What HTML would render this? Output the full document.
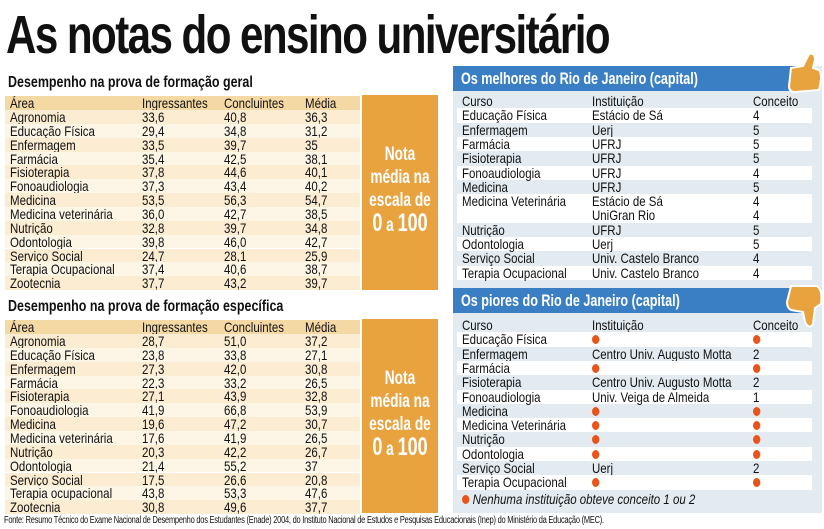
<!DOCTYPE html>
<html><head><meta charset="utf-8"><style>
*{margin:0;padding:0;box-sizing:border-box}
body{width:824px;height:529px;background:#fff;position:relative;overflow:hidden;font-family:"Liberation Sans Narrow","Liberation Sans",sans-serif;color:#111}
.a{position:absolute}
h1{position:absolute;left:6px;top:4px;font-size:54px;font-weight:bold;letter-spacing:-2px;transform:scaleX(0.78);transform-origin:left top;white-space:nowrap}
.st{position:absolute;left:8px;font-size:16px;font-weight:bold;white-space:nowrap;transform:scaleX(0.78);transform-origin:left top}
.r{position:absolute;left:5px;width:355px;height:13.85px;font-size:14px;line-height:14px;white-space:nowrap}
.r span,.q span{position:absolute;top:0;transform:scaleX(0.82);transform-origin:left top}
.r .c1{left:5px}.r .c2{left:137px}.r .c3{left:219px}.r .c4{left:300px}
.o{position:absolute;left:362px;width:76px;background:#e8a33e;color:#fff;font-weight:bold;text-align:center}
.o div{transform:scaleX(0.72);font-size:19px;line-height:23px;white-space:nowrap;margin-left:-20px;margin-right:-20px}
.panel{position:absolute;left:453px;top:66px;width:369px;height:447px;background:#e3ebf0}
.bar{position:absolute;left:453px;width:359px;height:25px;background:#3a7fc4;color:#fff;font-weight:bold;font-size:17px;line-height:25px}
.bar div{position:absolute;left:8px;transform:scaleX(0.74);transform-origin:left center;white-space:nowrap}
.q{position:absolute;left:457px;width:355px;height:14.3px;font-size:14px;line-height:14px;white-space:nowrap}
.q .c1{left:5px}.q .c2{left:135px}.q .c3{left:296px}
.w{background:#fff}
.d{display:inline-block;width:9px;height:9px;border-radius:50%;background:#e8551c;margin-top:3px}
</style></head><body>
<h1>As notas do ensino universitário</h1>

<div class="st" style="top:74px">Desempenho na prova de formação geral</div>
<div class="r" style="top:96px;background:#f5d9a5"><span class="c1">Área</span><span class="c2">Ingressantes</span><span class="c3">Concluintes</span><span class="c4">Média</span></div>
<div class="r" style="top:110px;background:#fbecd2"><span class="c1">Agronomia</span><span class="c2">33,6</span><span class="c3">40,8</span><span class="c4">36,3</span></div>
<div class="r" style="top:123.85px;background:#fdf5e6"><span class="c1">Educação Física</span><span class="c2">29,4</span><span class="c3">34,8</span><span class="c4">31,2</span></div>
<div class="r" style="top:137.7px;background:#fbecd2"><span class="c1">Enfermagem</span><span class="c2">33,5</span><span class="c3">39,7</span><span class="c4">35</span></div>
<div class="r" style="top:151.55px;background:#fdf5e6"><span class="c1">Farmácia</span><span class="c2">35,4</span><span class="c3">42,5</span><span class="c4">38,1</span></div>
<div class="r" style="top:165.4px;background:#fbecd2"><span class="c1">Fisioterapia</span><span class="c2">37,8</span><span class="c3">44,6</span><span class="c4">40,1</span></div>
<div class="r" style="top:179.25px;background:#fdf5e6"><span class="c1">Fonoaudiologia</span><span class="c2">37,3</span><span class="c3">43,4</span><span class="c4">40,2</span></div>
<div class="r" style="top:193.1px;background:#fbecd2"><span class="c1">Medicina</span><span class="c2">53,5</span><span class="c3">56,3</span><span class="c4">54,7</span></div>
<div class="r" style="top:206.95px;background:#fdf5e6"><span class="c1">Medicina veterinária</span><span class="c2">36,0</span><span class="c3">42,7</span><span class="c4">38,5</span></div>
<div class="r" style="top:220.8px;background:#fbecd2"><span class="c1">Nutrição</span><span class="c2">32,8</span><span class="c3">39,7</span><span class="c4">34,8</span></div>
<div class="r" style="top:234.65px;background:#fdf5e6"><span class="c1">Odontologia</span><span class="c2">39,8</span><span class="c3">46,0</span><span class="c4">42,7</span></div>
<div class="r" style="top:248.5px;background:#fbecd2"><span class="c1">Serviço Social</span><span class="c2">24,7</span><span class="c3">28,1</span><span class="c4">25,9</span></div>
<div class="r" style="top:262.35px;background:#fdf5e6"><span class="c1">Terapia Ocupacional</span><span class="c2">37,4</span><span class="c3">40,6</span><span class="c4">38,7</span></div>
<div class="r" style="top:276.2px;background:#fbecd2"><span class="c1">Zootecnia</span><span class="c2">37,7</span><span class="c3">43,2</span><span class="c4">39,7</span></div>
<div class="o" style="top:95px;height:195px;padding-top:48px"><div>Nota<br>média na<br>escala de<br><span style="font-size:25px">0</span> a <span style="font-size:25px">100</span></div></div>

<div class="st" style="top:298px">Desempenho na prova de formação específica</div>
<div class="r" style="top:320px;background:#f5d9a5"><span class="c1">Área</span><span class="c2">Ingressantes</span><span class="c3">Concluintes</span><span class="c4">Média</span></div>
<div class="r" style="top:334px;background:#fbecd2"><span class="c1">Agronomia</span><span class="c2">28,7</span><span class="c3">51,0</span><span class="c4">37,2</span></div>
<div class="r" style="top:347.85px;background:#fdf5e6"><span class="c1">Educação Física</span><span class="c2">23,8</span><span class="c3">33,8</span><span class="c4">27,1</span></div>
<div class="r" style="top:361.7px;background:#fbecd2"><span class="c1">Enfermagem</span><span class="c2">27,3</span><span class="c3">42,0</span><span class="c4">30,8</span></div>
<div class="r" style="top:375.55px;background:#fdf5e6"><span class="c1">Farmácia</span><span class="c2">22,3</span><span class="c3">33,2</span><span class="c4">26,5</span></div>
<div class="r" style="top:389.4px;background:#fbecd2"><span class="c1">Fisioterapia</span><span class="c2">27,1</span><span class="c3">43,9</span><span class="c4">32,8</span></div>
<div class="r" style="top:403.25px;background:#fdf5e6"><span class="c1">Fonoaudiologia</span><span class="c2">41,9</span><span class="c3">66,8</span><span class="c4">53,9</span></div>
<div class="r" style="top:417.1px;background:#fbecd2"><span class="c1">Medicina</span><span class="c2">19,6</span><span class="c3">47,2</span><span class="c4">30,7</span></div>
<div class="r" style="top:430.95px;background:#fdf5e6"><span class="c1">Medicina veterinária</span><span class="c2">17,6</span><span class="c3">41,9</span><span class="c4">26,5</span></div>
<div class="r" style="top:444.8px;background:#fbecd2"><span class="c1">Nutrição</span><span class="c2">20,3</span><span class="c3">42,2</span><span class="c4">26,7</span></div>
<div class="r" style="top:458.65px;background:#fdf5e6"><span class="c1">Odontologia</span><span class="c2">21,4</span><span class="c3">55,2</span><span class="c4">37</span></div>
<div class="r" style="top:472.5px;background:#fbecd2"><span class="c1">Serviço Social</span><span class="c2">17,5</span><span class="c3">26,6</span><span class="c4">20,8</span></div>
<div class="r" style="top:486.35px;background:#fdf5e6"><span class="c1">Terapia ocupacional</span><span class="c2">43,8</span><span class="c3">53,3</span><span class="c4">47,6</span></div>
<div class="r" style="top:500.2px;background:#fbecd2"><span class="c1">Zootecnia</span><span class="c2">30,8</span><span class="c3">49,6</span><span class="c4">37,7</span></div>
<div class="o" style="top:319px;height:194px;padding-top:48px"><div>Nota<br>média na<br>escala de<br><span style="font-size:25px">0</span> a <span style="font-size:25px">100</span></div></div>

<div class="panel"></div>
<div class="bar" style="top:66px"><div>Os melhores do Rio de Janeiro (capital)</div></div>
<svg class="a" style="left:783px;top:50px" width="40" height="46"><path d="M8 18 L20 16 L26 4 Q32 2 32 10 L30 18 L36 20 Q40 24 36 40 L12 42 Q6 42 6 36 Z" fill="#e8a33e" stroke="#fff" stroke-width="2"/></svg>
<div class="q" style="top:94px"><span class="c1">Curso</span><span class="c2">Instituição</span><span class="c3">Conceito</span></div>
<div class="q w" style="top:108.3px"><span class="c1">Educação Física</span><span class="c2">Estácio de Sá</span><span class="c3">4</span></div>
<div class="q" style="top:122.6px"><span class="c1">Enfermagem</span><span class="c2">Uerj</span><span class="c3">5</span></div>
<div class="q w" style="top:136.9px"><span class="c1">Farmácia</span><span class="c2">UFRJ</span><span class="c3">5</span></div>
<div class="q" style="top:151.2px"><span class="c1">Fisioterapia</span><span class="c2">UFRJ</span><span class="c3">5</span></div>
<div class="q w" style="top:165.5px"><span class="c1">Fonoaudiologia</span><span class="c2">UFRJ</span><span class="c3">4</span></div>
<div class="q" style="top:179.8px"><span class="c1">Medicina</span><span class="c2">UFRJ</span><span class="c3">5</span></div>
<div class="q w" style="top:194.1px;height:28.6px"><span class="c1">Medicina Veterinária</span><span class="c2">Estácio de Sá<br>UniGran Rio</span><span class="c3">4<br>4</span></div>
<div class="q" style="top:222.7px"><span class="c1">Nutrição</span><span class="c2">UFRJ</span><span class="c3">5</span></div>
<div class="q w" style="top:237px"><span class="c1">Odontologia</span><span class="c2">Uerj</span><span class="c3">5</span></div>
<div class="q" style="top:251.3px"><span class="c1">Serviço Social</span><span class="c2">Univ. Castelo Branco</span><span class="c3">4</span></div>
<div class="q w" style="top:265.6px"><span class="c1">Terapia Ocupacional</span><span class="c2">Univ. Castelo Branco</span><span class="c3">4</span></div>

<div class="bar" style="top:288px"><div>Os piores do Rio de Janeiro (capital)</div></div>
<svg class="a" style="left:783px;top:282px" width="40" height="50"><path d="M8 4 L34 4 Q40 8 38 22 L32 26 L30 42 Q26 48 22 40 L20 30 L8 28 Q4 26 4 20 Z" fill="#e8a33e" stroke="#fff" stroke-width="2"/></svg>
<div class="q" style="top:318px"><span class="c1">Curso</span><span class="c2">Instituição</span><span class="c3">Conceito</span></div>
<div class="q w" style="top:332.3px"><span class="c1">Educação Física</span><span class="c2"><i class="d"></i></span><span class="c3"><i class="d"></i></span></div>
<div class="q" style="top:346.6px"><span class="c1">Enfermagem</span><span class="c2">Centro Univ. Augusto Motta</span><span class="c3">2</span></div>
<div class="q w" style="top:360.9px"><span class="c1">Farmácia</span><span class="c2"><i class="d"></i></span><span class="c3"><i class="d"></i></span></div>
<div class="q" style="top:375.2px"><span class="c1">Fisioterapia</span><span class="c2">Centro Univ. Augusto Motta</span><span class="c3">2</span></div>
<div class="q w" style="top:389.5px"><span class="c1">Fonoaudiologia</span><span class="c2">Univ. Veiga de Almeida</span><span class="c3">1</span></div>
<div class="q" style="top:403.8px"><span class="c1">Medicina</span><span class="c2"><i class="d"></i></span><span class="c3"><i class="d"></i></span></div>
<div class="q w" style="top:418.1px"><span class="c1">Medicina Veterinária</span><span class="c2"><i class="d"></i></span><span class="c3"><i class="d"></i></span></div>
<div class="q" style="top:432.4px"><span class="c1">Nutrição</span><span class="c2"><i class="d"></i></span><span class="c3"><i class="d"></i></span></div>
<div class="q w" style="top:446.7px"><span class="c1">Odontologia</span><span class="c2"><i class="d"></i></span><span class="c3"><i class="d"></i></span></div>
<div class="q" style="top:461px"><span class="c1">Serviço Social</span><span class="c2">Uerj</span><span class="c3">2</span></div>
<div class="q w" style="top:475.3px"><span class="c1">Terapia Ocupacional</span><span class="c2"><i class="d"></i></span><span class="c3"><i class="d"></i></span></div>
<div class="a" style="left:462px;top:491px;font-size:14px;font-style:italic;white-space:nowrap;transform:scaleX(0.82);transform-origin:left top"><i class="d"></i> Nenhuma instituição obteve conceito 1 ou 2</div>

<div class="a" style="left:4px;top:515px;font-size:10px;white-space:nowrap;letter-spacing:-0.3px;transform:scaleX(0.745);transform-origin:left top">Fonte: Resumo Técnico do Exame Nacional de Desempenho dos Estudantes (Enade) 2004, do Instituto Nacional de Estudos e Pesquisas Educacionais (Inep) do Ministério da Educação (MEC).</div>
</body></html>
